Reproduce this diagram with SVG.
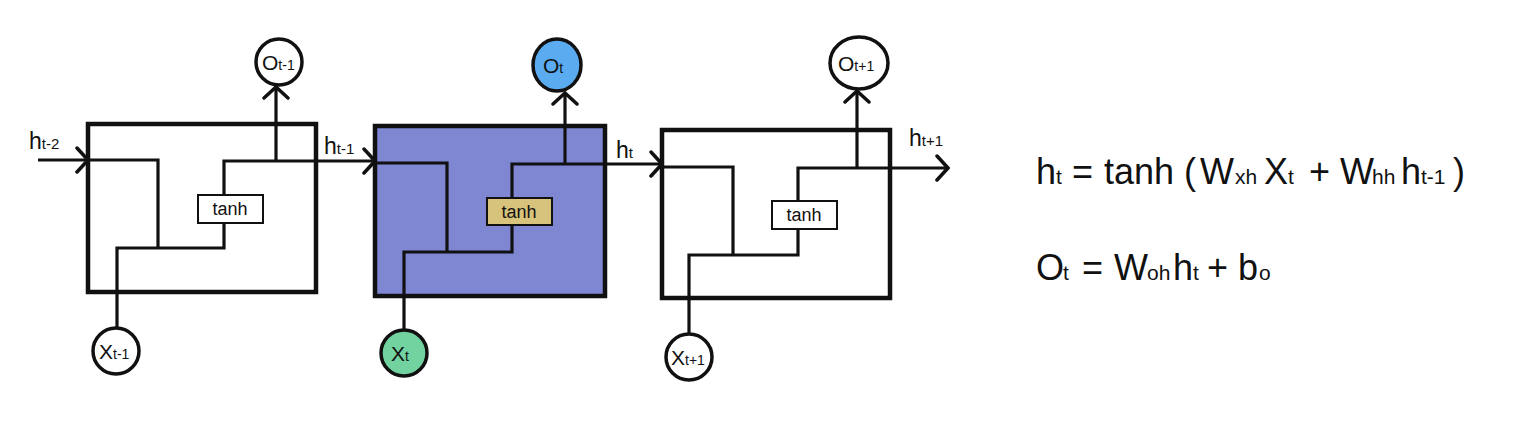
<svg xmlns="http://www.w3.org/2000/svg" width="1534" height="428" viewBox="0 0 1534 428">
<style>
.box{stroke:#111;stroke-width:4.5}
.wire{stroke:#111;stroke-width:3.2;fill:none;stroke-linejoin:miter}
.node{stroke:#111;stroke-width:3.5}
.tb{stroke:#111;stroke-width:2}
.t{font-family:"Liberation Sans",Arial,sans-serif;fill:#111}
.lbl{font-size:23px}
.sub{font-size:15px}
.cl{font-size:21px}
.cs{font-size:14px}
.tanh{font-family:"Liberation Sans",Arial,sans-serif;font-size:18px;fill:#111;text-anchor:middle}
.eq{font-family:"Liberation Sans",Arial,sans-serif;font-size:36px;fill:#111}
.es{font-size:21px}
</style>
<defs>
<marker id="chev" viewBox="-14 -14 16 28" refX="0" refY="0" markerWidth="16" markerHeight="28" markerUnits="userSpaceOnUse" orient="auto">
<path d="M-11,-12 L0,0 L-11,12" fill="none" stroke="#111" stroke-width="3.5" stroke-linecap="round"/>
</marker>
</defs>
<rect width="1534" height="428" fill="#fff"/>

<g id="cell1">
<rect class="box" x="88" y="124" width="228" height="168" fill="none"/>
<rect class="tb" x="198" y="195" width="65" height="28" fill="#fff"/>
<text class="tanh" x="230" y="215">tanh</text>
</g>
<g id="cell2">
<rect class="box" x="375" y="126" width="230" height="170" fill="#7f87d3"/>
<rect class="tb" x="487" y="198" width="65" height="27" fill="#d7c37b"/>
<text class="tanh" x="519" y="218">tanh</text>
</g>
<g id="cell3">
<rect class="box" x="662" y="130" width="228" height="168" fill="none"/>
<rect class="tb" x="772" y="201" width="65" height="28" fill="#fff"/>
<text class="tanh" x="804" y="221">tanh</text>
</g>

<g id="connectors">
<line class="wire" x1="38" y1="160" x2="88" y2="160" marker-end="url(#chev)"/>
<path class="wire" d="M88,160 H158 V248"/>
<path class="wire" d="M117,327 V248 H224 V223"/>
<path class="wire" d="M224,195 V161 H375" marker-end="url(#chev)"/>
<path class="wire" d="M276,161 V87" marker-end="url(#chev)"/>

<path class="wire" d="M375,163 H447 V252"/>
<path class="wire" d="M404,330 V252 H512 V225"/>
<path class="wire" d="M512,198 V164 H662" marker-end="url(#chev)"/>
<path class="wire" d="M565,164 V93" marker-end="url(#chev)"/>

<path class="wire" d="M662,167 H733 V255"/>
<path class="wire" d="M689,334 V255 H798 V229"/>
<path class="wire" d="M798,201 V168 H948" marker-end="url(#chev)"/>
<path class="wire" d="M857,168 V91" marker-end="url(#chev)"/>
</g>

<g id="o_tm1">
<circle class="node" cx="279" cy="62" r="23" fill="#fff"/>
<text class="t cl" x="262" y="70">O<tspan class="cs">t-1</tspan></text>
</g>
<g id="o_t">
<ellipse class="node" cx="557" cy="65" rx="24" ry="26" fill="#5aabf0"/>
<text class="t cl" x="543" y="73">O<tspan class="cs">t</tspan></text>
</g>
<g id="o_tp1">
<ellipse class="node" cx="859" cy="63" rx="29" ry="26" fill="#fff"/>
<text class="t cl" x="838" y="71">O<tspan class="cs">t+1</tspan></text>
</g>
<g id="x_tm1">
<circle class="node" cx="116" cy="351" r="23" fill="#fff"/>
<text class="t cl" x="99" y="359">X<tspan class="cs">t-1</tspan></text>
</g>
<g id="x_t">
<circle class="node" cx="404" cy="353" r="23" fill="#72d3a0"/>
<text class="t cl" x="391" y="361">X<tspan class="cs">t</tspan></text>
</g>
<g id="x_tp1">
<circle class="node" cx="689" cy="357" r="23" fill="#fff"/>
<text class="t cl" x="671" y="365">X<tspan class="cs">t+1</tspan></text>
</g>

<g id="labels">
<text class="t lbl" x="29" y="149">h<tspan class="sub">t-2</tspan></text>
<text class="t lbl" x="324" y="154">h<tspan class="sub">t-1</tspan></text>
<text class="t lbl" x="616" y="158">h<tspan class="sub">t</tspan></text>
<text class="t lbl" x="909" y="146">h<tspan class="sub">t+1</tspan></text>
</g>

<g id="equations">
<text class="eq" y="184"><tspan x="1036">h</tspan><tspan class="es" x="1056">t</tspan><tspan x="1072">=</tspan><tspan x="1104">tanh</tspan><tspan x="1184">(</tspan><tspan x="1200">W</tspan><tspan class="es" x="1235">xh</tspan><tspan x="1264">X</tspan><tspan class="es" x="1288">t</tspan><tspan x="1309">+</tspan><tspan x="1340">W</tspan><tspan class="es" x="1372">hh</tspan><tspan x="1401">h</tspan><tspan class="es" x="1421">t-1</tspan><tspan x="1453">)</tspan></text>
<text class="eq" y="280"><tspan x="1036">O</tspan><tspan class="es" x="1063">t</tspan><tspan x="1082">=</tspan><tspan x="1114">W</tspan><tspan class="es" x="1147">oh</tspan><tspan x="1173">h</tspan><tspan class="es" x="1193">t</tspan><tspan x="1207">+</tspan><tspan x="1238">b</tspan><tspan class="es" x="1259">o</tspan></text>
</g>
</svg>
